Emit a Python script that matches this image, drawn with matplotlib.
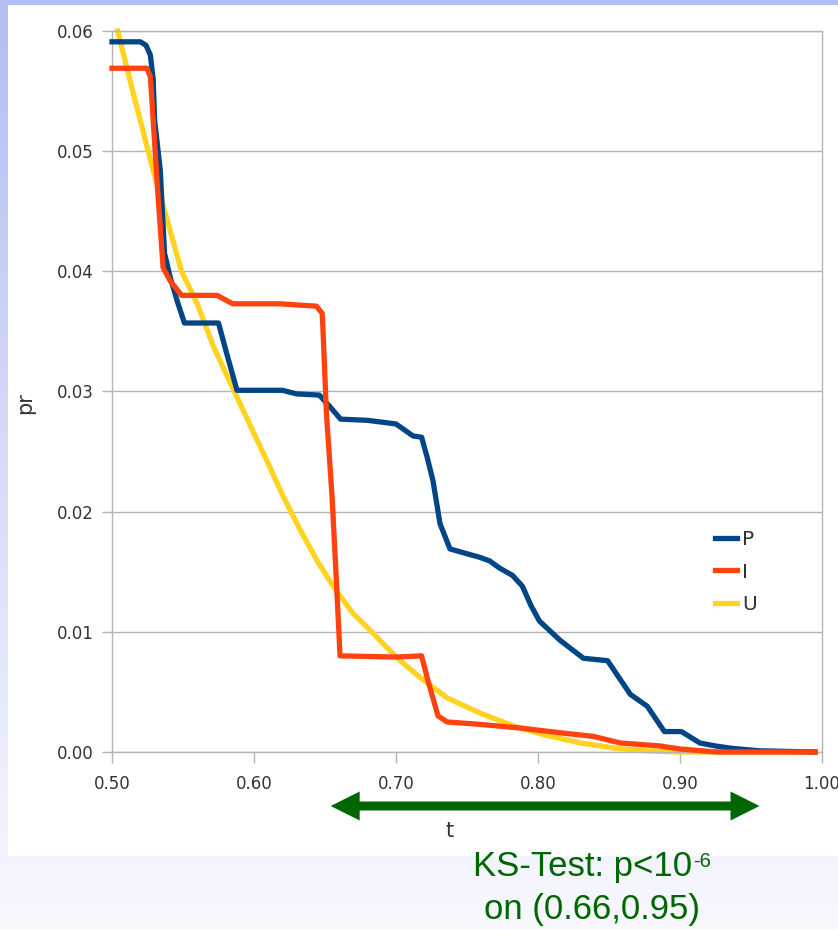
import numpy as np
import matplotlib
matplotlib.use("Agg")
import matplotlib.pyplot as plt
from matplotlib.patches import Rectangle, Polygon
from matplotlib.transforms import IdentityTransform
from matplotlib.ticker import FormatStrFormatter, MultipleLocator

# values (t, pr)
p_t = [0.500, 0.520, 0.524, 0.527, 0.529, 0.530, 0.534, 0.537, 0.541, 0.546,
       0.551, 0.575, 0.580, 0.588, 0.620, 0.630, 0.646, 0.653, 0.661, 0.680,
       0.700, 0.712, 0.718, 0.722, 0.726, 0.731, 0.738, 0.759, 0.766, 0.773, 0.782, 0.789,
       0.795, 0.801, 0.8155, 0.832, 0.849, 0.857, 0.865, 0.877, 0.889, 0.901,
       0.914, 0.925, 0.937, 0.956, 0.995]
p_pr = [0.0591, 0.0591, 0.0588, 0.0580, 0.0560, 0.0526, 0.0484, 0.0415, 0.0395, 0.0375,
        0.0357, 0.0357, 0.0335, 0.0301, 0.0301, 0.0298, 0.0297, 0.0288, 0.0277, 0.0276,
        0.0273, 0.0263, 0.0262, 0.0245, 0.0226, 0.0190, 0.0169, 0.0162, 0.0159, 0.0153, 0.0147, 0.0138,
        0.0122, 0.0109, 0.0093, 0.0078, 0.0076, 0.0062, 0.0048, 0.0038, 0.0017, 0.0017,
        0.00075, 0.0005, 0.0003, 0.0001, 0.0]

i_t = [0.500, 0.5246, 0.527, 0.529, 0.532, 0.536, 0.541, 0.549, 0.574, 0.585,
       0.618, 0.644, 0.648, 0.6486, 0.651, 0.655, 0.658, 0.6606, 0.700, 0.718,
       0.7226, 0.7296, 0.736, 0.759, 0.787, 0.8155, 0.839, 0.858, 0.886, 0.900,
       0.926, 0.995]
i_pr = [0.0569, 0.0569, 0.0562, 0.0526, 0.0470, 0.0403, 0.0392, 0.0380, 0.0380, 0.0373,
        0.0373, 0.0371, 0.0365, 0.0351, 0.0282, 0.0212, 0.0143, 0.0080, 0.0079, 0.0080,
        0.0059, 0.0030, 0.0025, 0.0023, 0.0020, 0.0016, 0.0013, 0.00075, 0.0005, 0.00025,
        0.0, 0.0]

u_t = [0.504, 0.515, 0.529, 0.549, 0.560, 0.572, 0.585, 0.598, 0.610, 0.620, 0.632,
       0.645, 0.658, 0.670, 0.683, 0.691, 0.704, 0.717, 0.736, 0.760, 0.782, 0.805,
       0.830, 0.855, 0.877, 0.900, 0.995]
u_pr = [0.0600, 0.0548, 0.0484, 0.0400, 0.0373, 0.0336, 0.0303, 0.0270, 0.0240, 0.0214, 0.0186,
        0.0158, 0.0134, 0.0115, 0.0100, 0.0090, 0.0075, 0.0062, 0.0045, 0.0032, 0.0022, 0.0014,
        0.00075, 0.0003, 0.0001, 0.0, 0.0]

series = [("P", p_t, p_pr, "#004586", 3), ("I", i_t, i_pr, "#ff420e", 4), ("U", u_t, u_pr, "#ffd320", 2)]

W, H = 838, 930
fig = plt.figure(figsize=(W / 100, H / 100), dpi=100)

# slide background: blue fading to near white
bg = fig.add_axes([0, 0, 1, 1], zorder=-10)
top = np.array([179, 190, 242]) / 255
bot = np.array([248, 248, 254]) / 255
g = np.linspace(0, 1, 256)[:, None, None]
bg.imshow(top + (bot - top) * g, aspect="auto", extent=[0, 1, 0, 1])
bg.axis("off")
fig.add_artist(Rectangle((8 / W, 74 / H), 1 - 8 / W, (925 - 74) / H, transform=fig.transFigure,
                         facecolor="white", edgecolor="none", zorder=-5))

ax = fig.add_axes([112 / W, 178 / H, 710 / W, 721 / H])
for name, t, pr, c, z in series:
    ax.plot(t, pr, color=c, lw=3.8, label=name, zorder=z, clip_on=False, solid_joinstyle="round")

ax.set_xlim(0.5, 1.0)
ax.set_ylim(0, 0.06)
ax.xaxis.set_major_locator(MultipleLocator(0.1))
ax.yaxis.set_major_locator(MultipleLocator(0.01))
ax.xaxis.set_major_formatter(FormatStrFormatter("%.2f"))
ax.yaxis.set_major_formatter(FormatStrFormatter("%.2f"))
ax.grid(axis="y", color="#b3b3b3", lw=1.0)
ax.set_axisbelow(True)
for s in ax.spines.values():
    s.set_color("#b3b3b3")
    s.set_linewidth(1.0)
ax.tick_params(axis="both", colors="#b3b3b3", labelcolor="#333333", labelsize=12, width=1.0)
ax.tick_params(axis="x", length=8, pad=8.5)
ax.tick_params(axis="y", length=7, pad=6)

ax.set_xlabel("t", fontsize=15, color="#333333")
ax.xaxis.set_label_coords((450 - 112) / 710, (752 - 831) / 721)
ax.xaxis.label.set_va("center")
ax.set_ylabel("pr", fontsize=15, color="#333333")
ax.yaxis.set_label_coords((25 - 112) / 710, (752 - 403) / 721)
ax.yaxis.label.set_va("center")

leg = ax.legend(loc="center left", bbox_to_anchor=((715 - 112) / 710, (752 - 572) / 721),
                frameon=False, fontsize=14.5, handlelength=1.1, handletextpad=0.25,
                labelspacing=0.65, borderpad=0, borderaxespad=0)
for txt in leg.get_texts():
    txt.set_color("#333333")

# green double arrow under the axis, spanning the tested range
green = "#006600"
xl = ax.transData.transform((0.654, 0))[0]
xr = ax.transData.transform((0.956, 0))[0]
ya = H - 806
sw, hw, hl = 4.5, 14.5, 29
arrow = [(xl, ya), (xl + hl, ya + hw), (xl + hl, ya + sw), (xr - hl, ya + sw), (xr - hl, ya + hw),
         (xr, ya), (xr - hl, ya - hw), (xr - hl, ya - sw), (xl + hl, ya - sw), (xl + hl, ya - hw)]
fig.add_artist(Polygon(arrow, closed=True, transform=IdentityTransform(), facecolor=green, lw=0))

fam = ["Liberation Sans", "DejaVu Sans"]
fig.text(692, H - 876, "KS-Test: p<10", transform=IdentityTransform(), ha="right", va="baseline",
         fontsize=25, color=green, family=fam)
fig.text(693, H - 867, "-6", transform=IdentityTransform(), ha="left", va="baseline",
         fontsize=14.5, color=green, family=fam)
fig.text(592, H - 919, "on (0.66,0.95)", transform=IdentityTransform(), ha="center", va="baseline",
         fontsize=25, color=green, family=fam)

fig.savefig("out.png", dpi=100)
